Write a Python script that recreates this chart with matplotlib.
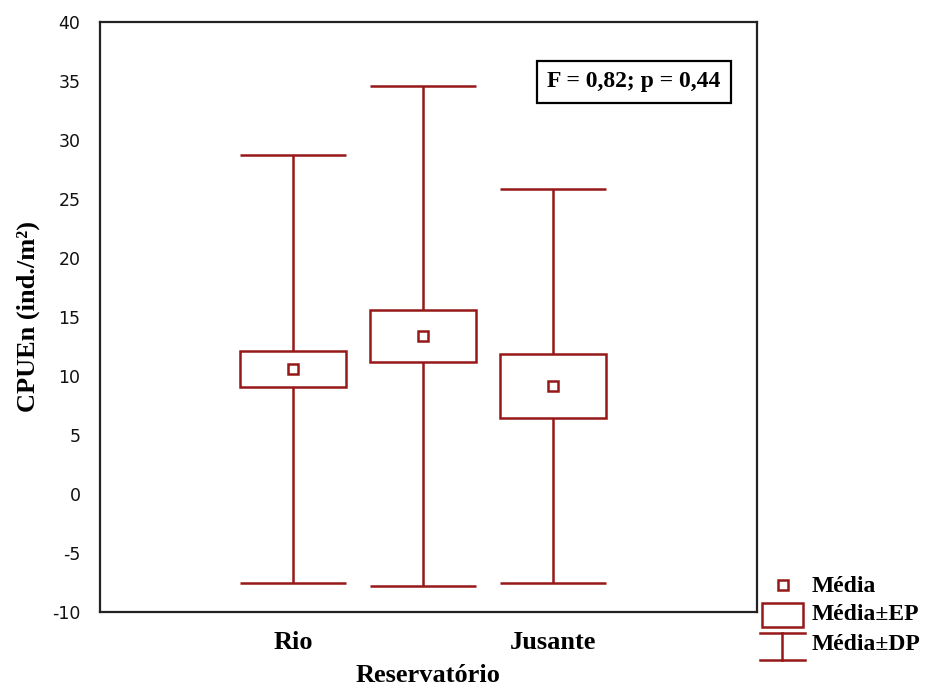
import matplotlib
matplotlib.use("Agg")
import matplotlib.pyplot as plt
from matplotlib.patches import Rectangle
from matplotlib.lines import Line2D

plt.rcParams["axes.unicode_minus"] = False

# Data: CPUEn per site (mean, standard error, standard deviation)
categories = ["Rio", "Reservatório", "Jusante"]
tick_labels = ["Rio", "", "Jusante"]
means = [10.6, 13.4, 9.15]
se = [1.5, 2.2, 2.75]
sd = [18.1, 21.2, 16.7]

RED = "#961818"
SERIF = "Liberation Serif"
W, H = 927, 687

fig = plt.figure(figsize=(W / 100, H / 100), dpi=100)
ax = fig.add_axes([100 / W, 1 - 612 / H, 657 / W, 590 / H])

pos = list(range(len(categories)))
bw = 0.82
lw = 1.8
for x, m, e, d in zip(pos, means, se, sd):
    # whiskers: mean ± SD
    ax.vlines(x, m + e, m + d, color=RED, lw=lw)
    ax.vlines(x, m - d, m - e, color=RED, lw=lw)
    ax.hlines([m + d, m - d], x - bw / 2, x + bw / 2, color=RED, lw=lw)
    # box: mean ± SE
    ax.add_patch(Rectangle((x - bw / 2, m - e), bw, 2 * e, fill=False,
                           edgecolor=RED, lw=lw))
    # mean marker
    ax.plot(x, m, marker="s", ms=7, mfc="white", mec=RED, mew=1.8, ls="none")

ax.set_xlim(-1.485, 3.57)
ax.set_ylim(-10, 40)
ax.set_yticks(range(-10, 41, 5))
ax.set_xticks(pos)
ax.set_xticklabels(tick_labels, fontfamily=SERIF, fontweight="bold", fontsize=19)
ax.tick_params(axis="y", length=0, pad=14, labelsize=12.5, labelcolor="#111111")
ax.tick_params(axis="x", length=0, pad=14)
for sp in ax.spines.values():
    sp.set_linewidth(1.6)
    sp.set_color("#222222")

ax.set_xlabel("Reservatório", fontfamily=SERIF, fontweight="bold", fontsize=19,
              labelpad=7)
ax.set_ylabel("CPUEn (ind./m²)", fontfamily=SERIF, fontweight="bold", fontsize=19)
ax.yaxis.label.set_va("center")
ax.yaxis.set_label_coords((28 - 100) / 657, 0.5)

ax.text((634 - 100) / 657, (612 - 82) / 590, "F = 0,82; p = 0,44",
        transform=ax.transAxes, ha="center", va="center", fontfamily=SERIF,
        fontweight="bold", fontsize=17,
        bbox=dict(boxstyle="square,pad=0.45", fc="white", ec="black", lw=1.6))


def px(x, y):
    return (x / W, 1 - y / H)


tf = fig.transFigure
# legend: mean marker
fig.add_artist(Line2D([px(783, 0)[0]], [px(0, 585)[1]], marker="s", ms=7,
                      mfc="white", mec=RED, mew=1.8, ls="none", transform=tf))
# legend: SE box
x0, y0 = px(762, 627)
x1, y1 = px(803, 603)
fig.add_artist(Rectangle((x0, y0), x1 - x0, y1 - y0, fill=False, edgecolor=RED,
                         lw=lw, transform=tf))
# legend: SD whisker
for yy in (633, 660):
    a, b = px(760, yy), px(805, yy)
    fig.add_artist(Line2D([a[0], b[0]], [a[1], b[1]], color=RED, lw=lw, transform=tf))
a, b = px(782, 633), px(782, 660)
fig.add_artist(Line2D([a[0], b[0]], [a[1], b[1]], color=RED, lw=lw, transform=tf))

for label, yy in (("Média", 586), ("Média±EP", 615), ("Média±DP", 645)):
    tx, ty = px(812, yy)
    fig.text(tx, ty, label, ha="left", va="center", fontfamily=SERIF,
             fontweight="bold", fontsize=17)

fig.savefig("out.png", dpi=100, facecolor="white")
